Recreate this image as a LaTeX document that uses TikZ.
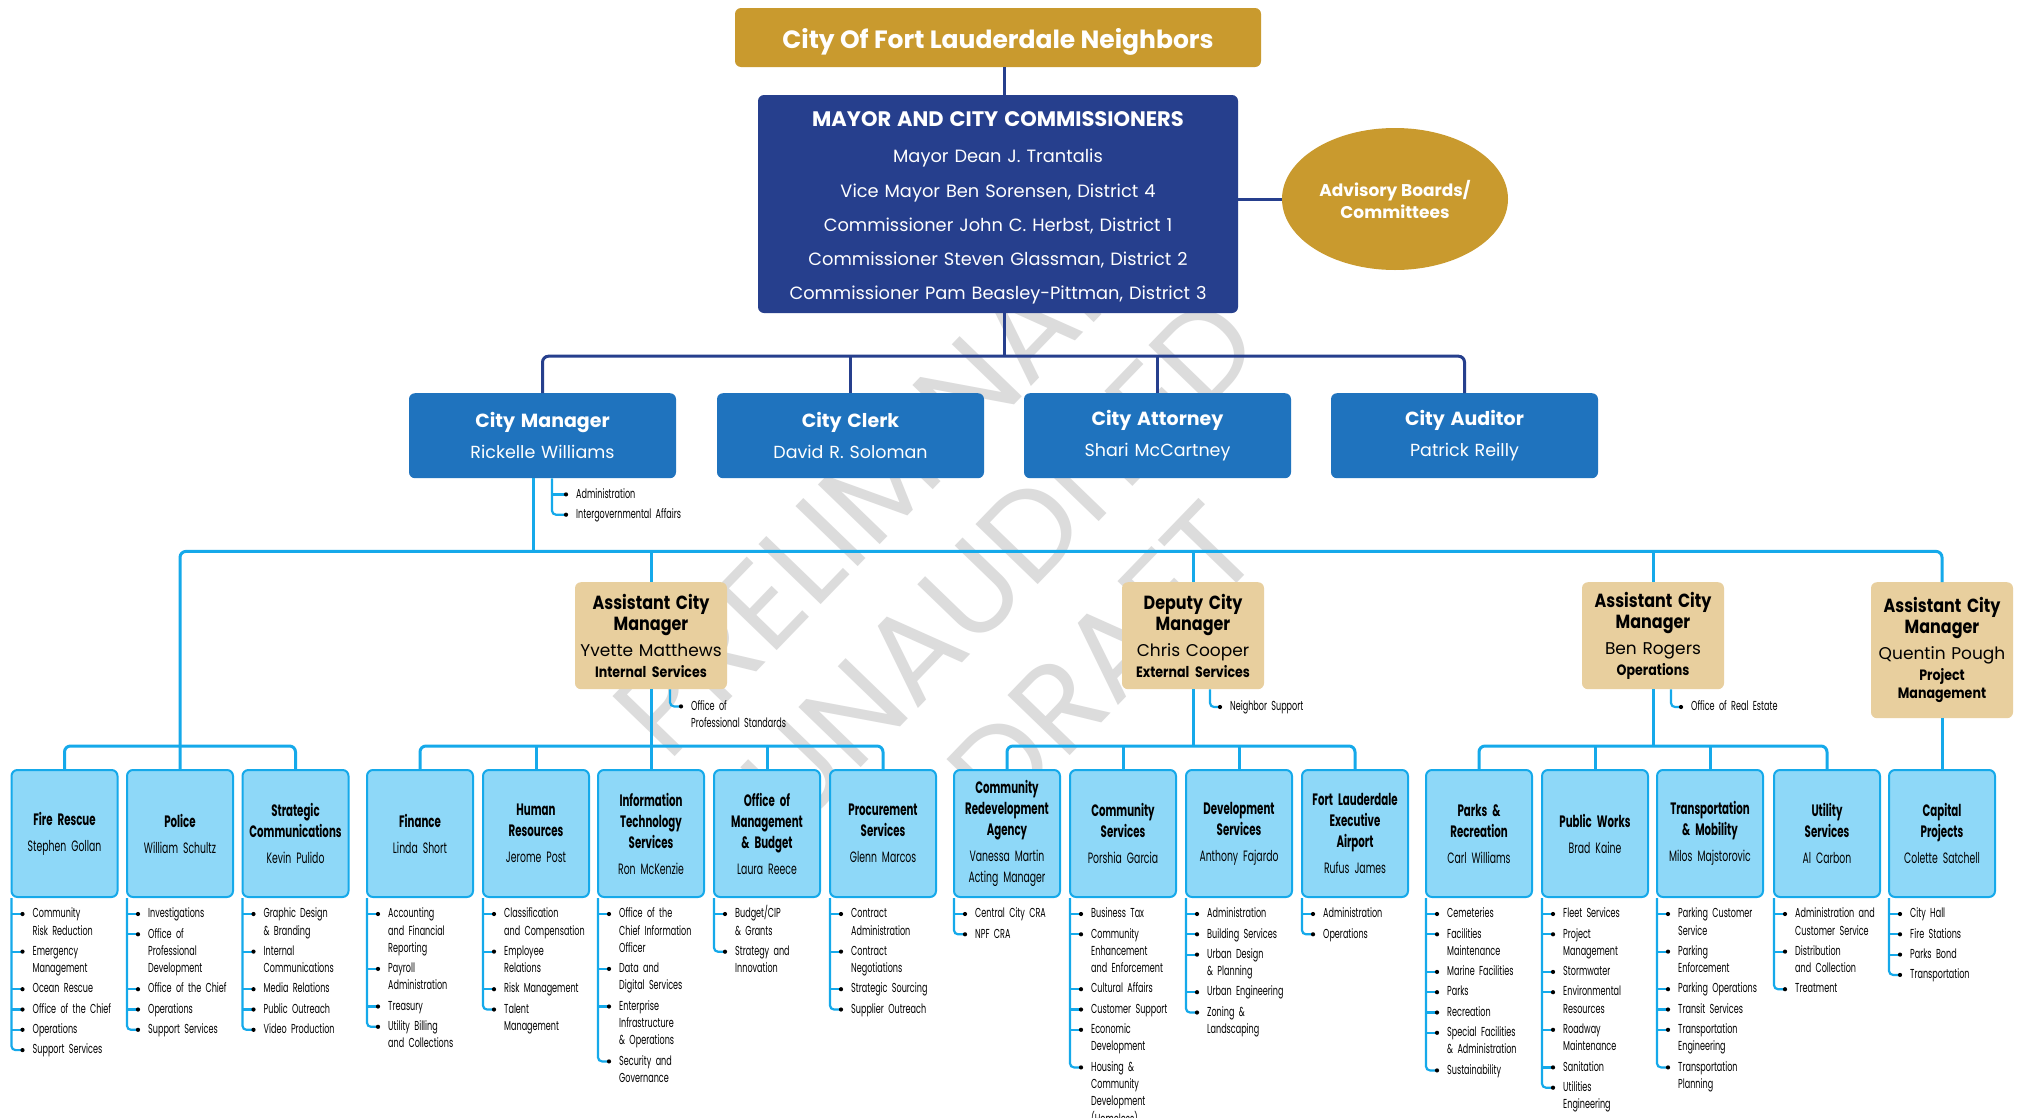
\documentclass[tikz,border=0pt]{standalone}
\usepackage{fontspec}
\setmainfont{Poppins}
\newfontfamily\condfont[FakeStretch=0.62]{Poppins}
\newfontfamily\semicond[FakeStretch=0.84]{Poppins}
\usetikzlibrary{shapes.geometric,calc}

\definecolor{cfgold}{HTML}{C99A2E}
\definecolor{cfnavy}{HTML}{263F8D}
\definecolor{cfblue}{HTML}{1F73BE}
\definecolor{cftan}{HTML}{E8CF9E}
\definecolor{cfsky}{HTML}{8ED8F8}
\definecolor{cfcyan}{HTML}{15A9EA}
\definecolor{cfwater}{HTML}{DCDCDC}

\tikzset{
  navyline/.style={draw=cfnavy, line width=3pt},
  cyanline/.style={draw=cfcyan, line width=3pt},
  railline/.style={draw=cfcyan, line width=2.2pt},
  rowbox/.style={fill=cfblue, rounded corners=6pt, minimum width=267pt, minimum height=85pt,
    text width=260pt, align=center, anchor=north, inner sep=0pt, text=white,
    font=\fontsize{17.5}{24}\selectfont},
  acmbox/.style={fill=cftan, rounded corners=6pt, minimum width=142pt, minimum height=107pt,
    text width=140pt, align=center, anchor=north, inner sep=0pt,
    font=\fontsize{17}{21}\selectfont},
  deptbox/.style={draw=cfcyan, line width=2pt, fill=cfsky, rounded corners=6pt,
    minimum width=106pt, minimum height=127pt, text width=104pt, align=center,
    anchor=north, inner sep=0pt, font=\condfont\fontsize{15}{21}\selectfont},
  item/.style={anchor=north west, inner sep=0pt, text width=160pt, align=left,
    font=\condfont\fontsize{13}{17.3}\selectfont},
}

% bullet list hanging from a rail: prefix, first text position, items
\newcommand\bullets[3]{%
  \foreach \t [count=\i, remember=\i as \j (initially 0)] in {#3}{%
    \ifnum\i=1
      \node[item] (#1-\i) at (#2) {\strut\t\strut};
    \else
      \node[item] (#1-\i) at ([yshift=-2.6pt]#1-\j.south west) {\strut\t\strut};
    \fi
    \coordinate (#1-\i-b) at ([xshift=-10pt,yshift=-8.6pt]#1-\i.north west);
    \xdef\lastitem{\i}
  }
  \draw[railline, rounded corners=4pt] (#1-rail) |- (#1-\lastitem-b);
  \pgfmathtruncatemacro\prevlast{\lastitem-1}
  \ifnum\prevlast>0
    \foreach \k in {1,...,\prevlast}
      \draw[railline] (#1-\k-b -| #1-rail) -- (#1-\k-b);
  \fi
  \foreach \k in {1,...,\lastitem}
    \fill (#1-\k-b) circle (2.1pt);
}

% department box with its list: name, x, title, head, items
\newcommand\dept[5]{%
  \node[deptbox] (#1) at (#2,769) {{\bfseries\fontsize{16.5}{21}\selectfont #3}\\[5pt]#4};
  \coordinate (#1-rail) at ([xshift=1pt]#1.south west);
  \bullets{#1}{[xshift=22pt,yshift=-7.4pt]#1.south west}{#5}
}

% assistant manager box text: title, name, area
\newcommand\acmtext[3]{{\semicond\bfseries\fontsize{19}{22}\selectfont #1}\\[5pt]#2\\{\semicond\bfseries\fontsize{15}{21}\selectfont #3}}

\begin{document}
\begin{tikzpicture}[x=1pt,y=-1pt]
\useasboundingbox (0,0) rectangle (2022,1117);
\fill[white] (0,0) rectangle (2022,1117);

\node[rotate=46, text=cfwater, text width=1300pt, align=center, inner sep=0pt,
  font=\fontsize{124}{142}\selectfont] (draft) at (1000,562) {PRELIMINARY\\UNAUDITED\\DRAFT};

\node[fill=cfgold, rounded corners=6pt, minimum width=526pt, minimum height=59pt, text=white,
  font=\bfseries\fontsize{25}{30}\selectfont] (title) at (998,37.5)
  {\raisebox{-4pt}[\height][\depth]{City Of Fort Lauderdale Neighbors}};

\node[fill=cfnavy, rounded corners=6pt, minimum width=480pt, minimum height=218pt, text=white,
  text width=470pt, align=center, font=\fontsize{17.8}{34.3}\selectfont] (mayor) at (998,204)
  {\rule{0pt}{23pt}{\bfseries\fontsize{21}{34}\selectfont MAYOR AND CITY COMMISSIONERS}\\[2pt]
   Mayor Dean J. Trantalis\\
   Vice Mayor Ben Sorensen, District 4\\
   Commissioner John C. Herbst, District 1\\
   Commissioner Steven Glassman, District 2\\
   Commissioner Pam Beasley-Pittman, District 3};

\node[ellipse, fill=cfgold, minimum width=226pt, minimum height=142pt, text=white, inner sep=0pt,
  align=center, font=\bfseries\fontsize{17}{22}\selectfont] (advisory) at (1395,199)
  {Advisory Boards/\\Committees};

\node[rowbox] (manager) at (542.5,393) {{\bfseries\fontsize{19}{24}\selectfont City Manager}\\[7pt]Rickelle Williams};
\node[rowbox] (clerk) at (850.5,393) {{\bfseries\fontsize{19}{24}\selectfont City Clerk}\\[7pt]David R. Soloman};
\node[rowbox] (attorney) at (1157.5,393) {{\bfseries\fontsize{19}{24}\selectfont City Attorney}\\[7pt]Shari McCartney};
\node[rowbox] (auditor) at (1464.5,393) {{\bfseries\fontsize{19}{24}\selectfont City Auditor}\\[7pt]Patrick Reilly};

\node[acmbox, minimum width=152pt, text width=152pt] (acmInt) at (651,582) {\acmtext{Assistant City\\Manager}{Yvette Matthews}{Internal Services}};
\node[acmbox] (dcmExt) at (1193,582) {\acmtext{Deputy City\\Manager}{Chris Cooper}{External Services}};
\node[acmbox] (acmOps) at (1653,582) {\acmtext{Assistant City\\Manager}{Ben Rogers}{Operations}};
\node[acmbox, minimum height=136pt] (acmProj) at (1942,582) {\acmtext{Assistant City\\Manager}{Quentin Pough}{Project\\[-3pt]Management}};

\dept{fire}{64.5}{Fire Rescue}{Stephen Gollan}{{Community\\Risk Reduction},{Emergency\\Management},Ocean Rescue,Office of the Chief,Operations,Support Services}
\dept{police}{180}{Police}{William Schultz}{Investigations,{Office of\\Professional\\Development},Office of the Chief,Operations,Support Services}
\dept{strat}{295.5}{Strategic\\Communications}{Kevin Pulido}{{Graphic Design\\\& Branding},{Internal\\Communications},Media Relations,Public Outreach,Video Production}
\dept{finance}{420}{Finance}{Linda Short}{{Accounting\\and Financial\\Reporting},{Payroll\\Administration},Treasury,{Utility Billing\\and Collections}}
\dept{hr}{536}{Human\\Resources}{Jerome Post}{{Classification\\and Compensation},{Employee\\Relations},Risk Management,{Talent\\Management}}
\dept{its}{651}{Information\\Technology\\Services}{Ron McKenzie}{{Office of the\\Chief Information\\Officer},{Data and\\Digital Services},{Enterprise\\Infrastructure\\\& Operations},{Security and\\Governance}}
\dept{omb}{767}{Office of\\Management\\\& Budget}{Laura Reece}{{Budget/CIP\\\& Grants},{Strategy and\\Innovation}}
\dept{proc}{883}{Procurement\\Services}{Glenn Marcos}{{Contract\\Administration},{Contract\\Negotiations},Strategic Sourcing,Supplier Outreach}
\dept{cra}{1007}{Community\\Redevelopment\\Agency}{Vanessa Martin\\Acting Manager}{Central City CRA,NPF CRA}
\dept{comsvc}{1123}{Community\\Services}{Porshia Garcia}{Business Tax,{Community\\Enhancement\\and Enforcement},Cultural Affairs,Customer Support,{Economic\\Development},{Housing \&\\Community\\Development\\(Homeless)}}
\dept{devsvc}{1239}{Development\\Services}{Anthony Fajardo}{Administration,Building Services,{Urban Design\\\& Planning},Urban Engineering,{Zoning \&\\Landscaping}}
\dept{fxe}{1355}{Fort Lauderdale\\Executive\\Airport}{Rufus James}{Administration,Operations}
\dept{parks}{1479}{Parks \&\\Recreation}{Carl Williams}{Cemeteries,{Facilities\\Maintenance},Marine Facilities,Parks,Recreation,{Special Facilities\\\& Administration},Sustainability}
\dept{pw}{1595}{Public Works}{Brad Kaine}{Fleet Services,{Project\\Management},Stormwater,{Environmental\\Resources},{Roadway\\Maintenance},Sanitation,{Utilities\\Engineering}}
\dept{trans}{1710}{Transportation\\\& Mobility}{Milos Majstorovic}{{Parking Customer\\Service},{Parking\\Enforcement},Parking Operations,Transit Services,{Transportation\\Engineering},{Transportation\\Planning}}
\dept{util}{1827}{Utility\\Services}{Al Carbon}{{Administration and\\Customer Service},{Distribution\\and Collection},Treatment}
\dept{cip}{1942}{Capital\\Projects}{Colette Satchell}{City Hall,Fire Stations,Parks Bond,Transportation}

% side lists
\coordinate (cm-rail) at ([xshift=9.5pt]manager.south);
\bullets{cm}{[xshift=33.5pt,yshift=-7.4pt]manager.south}{Administration,Intergovernmental Affairs}
\coordinate (ops-rail) at ([xshift=19pt]acmInt.south);
\bullets{ops}{[xshift=40pt,yshift=-8.4pt]acmInt.south}{{Office of\\Professional Standards}}
\coordinate (nbr-rail) at ([xshift=17pt]dcmExt.south);
\bullets{nbr}{[xshift=37pt,yshift=-9pt]dcmExt.south}{Neighbor Support}
\coordinate (est-rail) at ([xshift=18pt]acmOps.south);
\bullets{est}{[xshift=38pt,yshift=-9pt]acmOps.south}{Office of Real Estate}

% navy connectors
\draw[navyline] ([xshift=6pt]title.south) -- ([xshift=6pt]title.south |- mayor.north);
\draw[navyline] (mayor.east |- advisory.west) -- (advisory.west);
\draw[navyline] ([xshift=6pt]mayor.south) -- ++(0,43) coordinate (navybus);
\draw[navyline, rounded corners=6pt] (manager.north) |- (navybus) -| (auditor.north);
\draw[navyline] (clerk.north) -- (clerk.north |- navybus);
\draw[navyline] (attorney.north) -- (attorney.north |- navybus);

% cyan connectors
\draw[cyanline] ([xshift=-9.5pt]manager.south) -- ++(0,73) coordinate (cyanbus);
\draw[cyanline, rounded corners=6pt] (police.north) |- (cyanbus) -| (acmProj.north);
\draw[cyanline] (acmInt.north |- cyanbus) -- (acmInt.north);
\draw[cyanline] (dcmExt.north |- cyanbus) -- (dcmExt.north);
\draw[cyanline] (acmOps.north |- cyanbus) -- (acmOps.north);

\draw[cyanline, rounded corners=6pt] (fire.north) -- ++(0,-23) -| (strat.north);

\draw[cyanline, rounded corners=6pt] (finance.north) -- ++(0,-23) coordinate (intbus) -| (proc.north);
\draw[cyanline] (acmInt.south) -- (its.north);
\draw[cyanline] (hr.north) -- (hr.north |- intbus);
\draw[cyanline] (omb.north) -- (omb.north |- intbus);

\draw[cyanline, rounded corners=6pt] (cra.north) -- ++(0,-23) coordinate (extbus) -| (fxe.north);
\draw[cyanline] (dcmExt.south) -- (dcmExt.south |- extbus);
\draw[cyanline] (comsvc.north) -- (comsvc.north |- extbus);
\draw[cyanline] (devsvc.north) -- (devsvc.north |- extbus);

\draw[cyanline, rounded corners=6pt] (parks.north) -- ++(0,-23) coordinate (opsbus) -| (util.north);
\draw[cyanline] (acmOps.south) -- (acmOps.south |- opsbus);
\draw[cyanline] (pw.north) -- (pw.north |- opsbus);
\draw[cyanline] (trans.north) -- (trans.north |- opsbus);

\draw[cyanline] (acmProj.south) -- (cip.north);
\end{tikzpicture}
\end{document}
